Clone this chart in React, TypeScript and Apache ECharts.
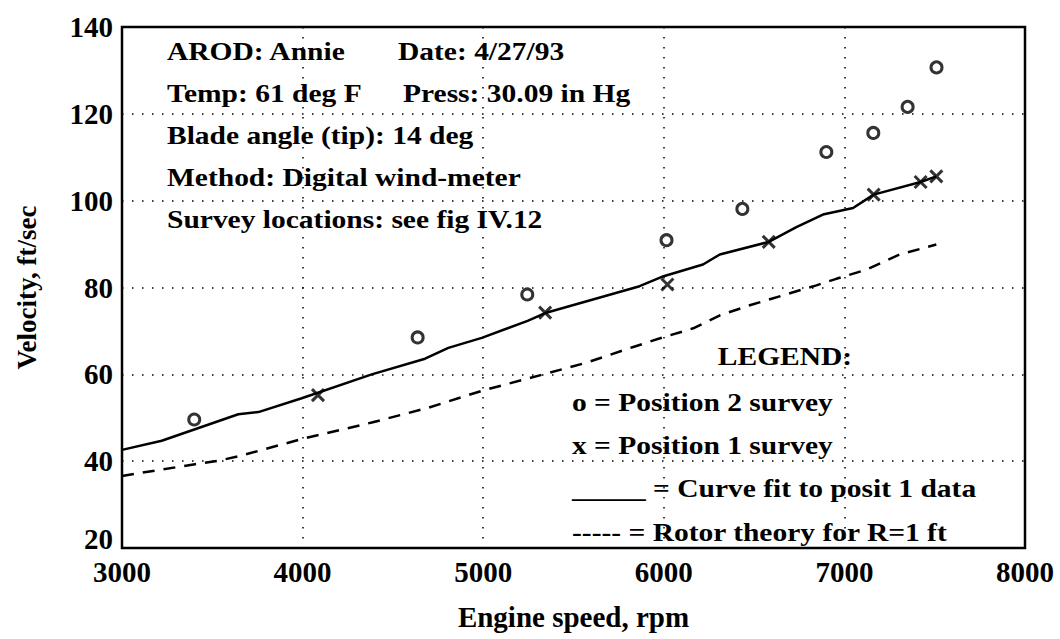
import React, { useEffect, useRef } from "react";
import * as echarts from "echarts";

// Position 2 survey (circles)
const pos2Rpm = [3400, 4637, 5244, 6015, 6435, 6900, 7160, 7350, 7510];
const pos2Vel = [49.6, 68.5, 78.4, 90.9, 98.1, 111.2, 115.6, 121.6, 130.7];
// Position 1 survey (crosses)
const pos1Rpm = [4085, 5343, 6020, 6581, 7162, 7422, 7509];
const pos1Vel = [55.2, 74.2, 80.7, 90.5, 101.4, 104.3, 105.6];
// Curve fit to position 1 data (solid)
const fitRpm = [3000, 3220, 3644, 3755, 3995, 4383, 4678, 4807, 4992, 5246, 5349, 5866, 5999, 6217, 6310, 6581, 6734, 6881, 7048, 7162, 7422, 7509];
const fitVel = [42.6, 44.7, 50.8, 51.3, 54.5, 60, 63.6, 66.1, 68.4, 72.3, 74.2, 80.3, 82.6, 85.3, 87.6, 90.5, 93.9, 96.8, 98.3, 101.4, 104.3, 105.6];
// Rotor theory for R=1 ft (dashed)
const rotorRpm = [3000, 3404, 3533, 3644, 3995, 4383, 4696, 4992, 5352, 5573, 5831, 5979, 6163, 6311, 6476, 6845, 6955, 7121, 7306, 7509];
const rotorVel = [36.6, 39.3, 40.1, 41.1, 45.1, 48.9, 52.3, 56.2, 60.2, 62.7, 66.3, 68.3, 70.6, 73.6, 75.9, 80.5, 82, 84.1, 87.6, 89.9];

const xTicks = [3000, 4000, 5000, 6000, 7000, 8000];
const yTicks = [20, 40, 60, 80, 100, 120, 140];

const infoLines = [
  "AROD: Annie",
  "Temp: 61 deg F",
  "Blade angle (tip): 14 deg",
  "Method: Digital wind-meter",
  "Survey locations: see fig IV.12",
];
const infoRight = ["Date: 4/27/93", "Press: 30.09 in Hg"];
const legendTitle = "LEGEND:";
const legendLines = [
  "o = Position 2 survey",
  "x = Position 1 survey",
  "_____ = Curve fit to posit 1 data",
  "----- = Rotor theory for R=1 ft",
];

const zip = (a: number[], b: number[]) => a.map((v, i) => [v, b[i]]);

const FONT = "'Liberation Serif', 'Times New Roman', serif";

export default function App() {
  const ref = useRef<HTMLDivElement>(null);
  useEffect(() => {
    if (!ref.current) return;
    const chart = echarts.init(ref.current, undefined, { renderer: "svg" });
    const txt = (text: string, x: number, y: number, align = "left") => ({
      type: "text",
      x,
      y,
      scaleX: 1.18,
      z: 10,
      style: {
        text,
        fontSize: 25,
        fontWeight: "bold",
        fontFamily: FONT,
        fill: "#000",
        textAlign: align,
        textVerticalAlign: "middle",
        verticalAlign: "middle",
      },
    });
    const infoY = [52, 94, 136, 178, 220];
    const legY = [403, 446, 489, 533];
    const graphics: any[] = [];
    infoLines.forEach((t, i) => graphics.push(txt(t, 167, infoY[i])));
    graphics.push(txt(infoRight[0], 398, infoY[0]));
    graphics.push(txt(infoRight[1], 403, infoY[1]));
    graphics.push(txt(legendTitle, 785, 357, "center"));
    legendLines.forEach((t, i) => graphics.push(txt(t, 572, legY[i])));

    chart.setOption({
      animation: false,
      backgroundColor: "#fff",
      grid: {
        left: 122,
        right: 35,
        top: 27,
        bottom: 91,
        show: true,
        borderColor: "#000",
        borderWidth: 2.5,
        backgroundColor: "transparent",
      },
      xAxis: {
        type: "value",
        min: 3000,
        max: 8000,
        interval: 1000,
        name: "Engine speed, rpm",
        nameLocation: "middle",
        nameGap: 54,
        nameTextStyle: { fontFamily: FONT, fontSize: 29, fontWeight: "bold", color: "#000" },
        axisLine: { show: false },
        axisTick: { show: false },
        axisLabel: {
          fontFamily: FONT,
          fontSize: 29,
          fontWeight: "bold",
          color: "#000",
          margin: 9,
          customValues: xTicks,
          formatter: (v: number) => String(v),
        },
        splitLine: {
          show: true,
          lineStyle: { color: "#000", width: 1.5, type: [1.5, 8.5] },
        },
      },
      yAxis: {
        type: "value",
        min: 20,
        max: 140,
        interval: 20,
        name: "Velocity, ft/sec",
        nameLocation: "middle",
        nameGap: 82,
        nameTextStyle: { fontFamily: FONT, fontSize: 27, fontWeight: "bold", color: "#000" },
        axisLine: { show: false },
        axisTick: { show: false },
        axisLabel: {
          fontFamily: FONT,
          fontSize: 29,
          fontWeight: "bold",
          color: "#000",
          margin: 9,
          customValues: yTicks,
          formatter: (v: number) => (v === 20 ? "{low|20}" : String(v)),
          rich: {
            low: {
              fontFamily: FONT,
              fontSize: 29,
              fontWeight: "bold",
              color: "#000",
              padding: [0, 0, 18, 0],
            },
          },
        },
        splitLine: {
          show: true,
          lineStyle: { color: "#000", width: 1.5, type: [1.5, 8.5] },
        },
      },
      series: [
        {
          name: "Curve fit to posit 1 data",
          type: "line",
          data: zip(fitRpm, fitVel),
          showSymbol: false,
          lineStyle: { color: "#000", width: 2.5 },
          z: 3,
        },
        {
          name: "Rotor theory for R=1 ft",
          type: "line",
          data: zip(rotorRpm, rotorVel),
          showSymbol: false,
          lineStyle: { color: "#000", width: 2.5, type: [12, 9] },
          z: 3,
        },
        {
          name: "Position 2 survey",
          type: "scatter",
          data: zip(pos2Rpm, pos2Vel),
          symbol: "circle",
          symbolSize: 11,
          itemStyle: { color: "#fff", borderColor: "#000", borderWidth: 3 },
          z: 5,
        },
        {
          name: "Position 1 survey",
          type: "scatter",
          data: zip(pos1Rpm, pos1Vel),
          symbol: "path://M0,0L10,10M10,0L0,10",
          symbolSize: 12,
          itemStyle: { color: "transparent", borderColor: "#000", borderWidth: 3 },
          z: 5,
        },
      ],
      graphic: graphics,
    });
    return () => chart.dispose();
  }, []);
  return (
    <div
      ref={ref}
      style={{ position: "absolute", left: 0, top: 0, width: 1060, height: 639, background: "#fff" }}
    />
  );
}
